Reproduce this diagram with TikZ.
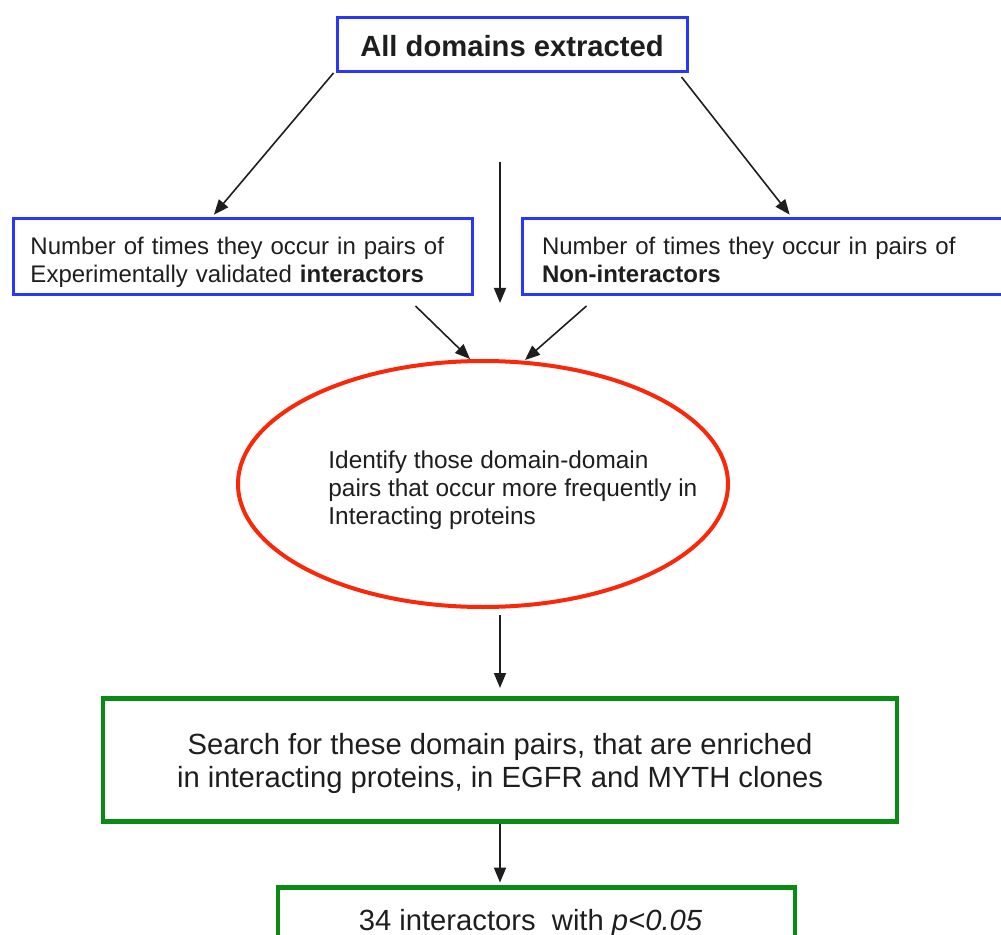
\documentclass[tikz,border=0pt]{standalone}
\usepackage{fontspec}
\setmainfont{Liberation Sans}
\usetikzlibrary{arrows.meta,shapes.geometric,calc}
\definecolor{bxblue}{RGB}{40,55,250}
\definecolor{bxred}{RGB}{250,40,10}
\definecolor{bxgreen}{RGB}{10,140,20}
\definecolor{txt}{RGB}{30,30,30}
\begin{document}
\begin{tikzpicture}[x=0.5pt,y=-0.5pt,
  bluebox/.style={draw=bxblue,line width=1.5pt,rectangle,inner sep=0pt,text=txt},
  greenbox/.style={draw=bxgreen,line width=2.3pt,rectangle,inner sep=0pt,text=txt},
  smalltext/.style={font=\fontsize{12pt}{14pt}\selectfont,align=left},
  bigtext/.style={font=\fontsize{14.6pt}{16.5pt}\selectfont,align=center},
  arr/.style={draw=txt,line width=0.8pt,-{Triangle[length=7.5pt,width=6pt]}}]
\useasboundingbox (0,0) rectangle (1001,935);
% boxes
\node[bluebox,anchor=north,minimum width=175pt,text height=19.5pt,text depth=7.5pt,
      font=\bfseries\fontsize{14.6pt}{16.5pt}\selectfont] (top) at (512,16) {All domains extracted};
\node[bluebox,smalltext,anchor=north,text width=212pt,inner xsep=8.75pt,text height=18pt,text depth=20pt] (left) at (242.5,217)
  {Number of times they occur in pairs of\\Experimentally validated \textbf{interactors}};
\node[bluebox,smalltext,anchor=north,text width=224pt,inner xsep=10pt,text height=18pt,text depth=20pt] (right) at (766,217)
  {Number of times they occur in pairs of\\\textbf{Non-interactors}};
\node[ellipse,draw=bxred,line width=2pt,minimum width=245pt,minimum height=123pt,inner sep=0pt] (ell) at (483,484) {};
\node[font=\fontsize{12.2pt}{14pt}\selectfont,align=left,text=txt,anchor=west,inner sep=0pt] (elltext) at (328,490)
  {Identify those domain-domain\\pairs that occur more frequently in\\Interacting proteins};
\node[greenbox,bigtext,anchor=north,minimum width=397pt,text height=44.5pt,text depth=17pt] (green) at (500,696)
  {Search for these domain pairs, that are enriched\\in interacting proteins, in EGFR and MYTH clones};
\node[greenbox,bigtext,anchor=north,minimum width=258.5pt,text height=10.5pt,text depth=40pt,inner ysep=11pt] (bottom) at (536.5,885)
  {34 interactors~ with \textit{p<0.05}\hspace*{6pt}};
% connectors
\coordinate (m1) at (500,162);
\coordinate (m2) at (500,303);
\draw[arr,shorten >=1.5pt] ([xshift=-1pt]top.south west) -- ([xshift=-15.25pt]left.north);
\draw[arr,shorten >=1.5pt] ([xshift=-3.5pt,yshift=-2pt]top.south east) -- ([xshift=135.5pt]right.north west);
\draw[arr] (m1) -- (m2);
\draw[arr] ([xshift=-29pt,yshift=-5pt]left.south east) -- ([xshift=-6.5pt]ell.north);
\draw[arr] ([xshift=33pt,yshift=-5pt]right.south west) -- ([xshift=21pt,yshift=-0.5pt]ell.north);
\draw[arr,shorten <=3pt,shorten >=4pt] (ell.south -| green.north) -- (green.north);
\draw[arr,shorten >=1.2pt] (green.south) -- (green.south |- bottom.north);
\end{tikzpicture}
\end{document}
